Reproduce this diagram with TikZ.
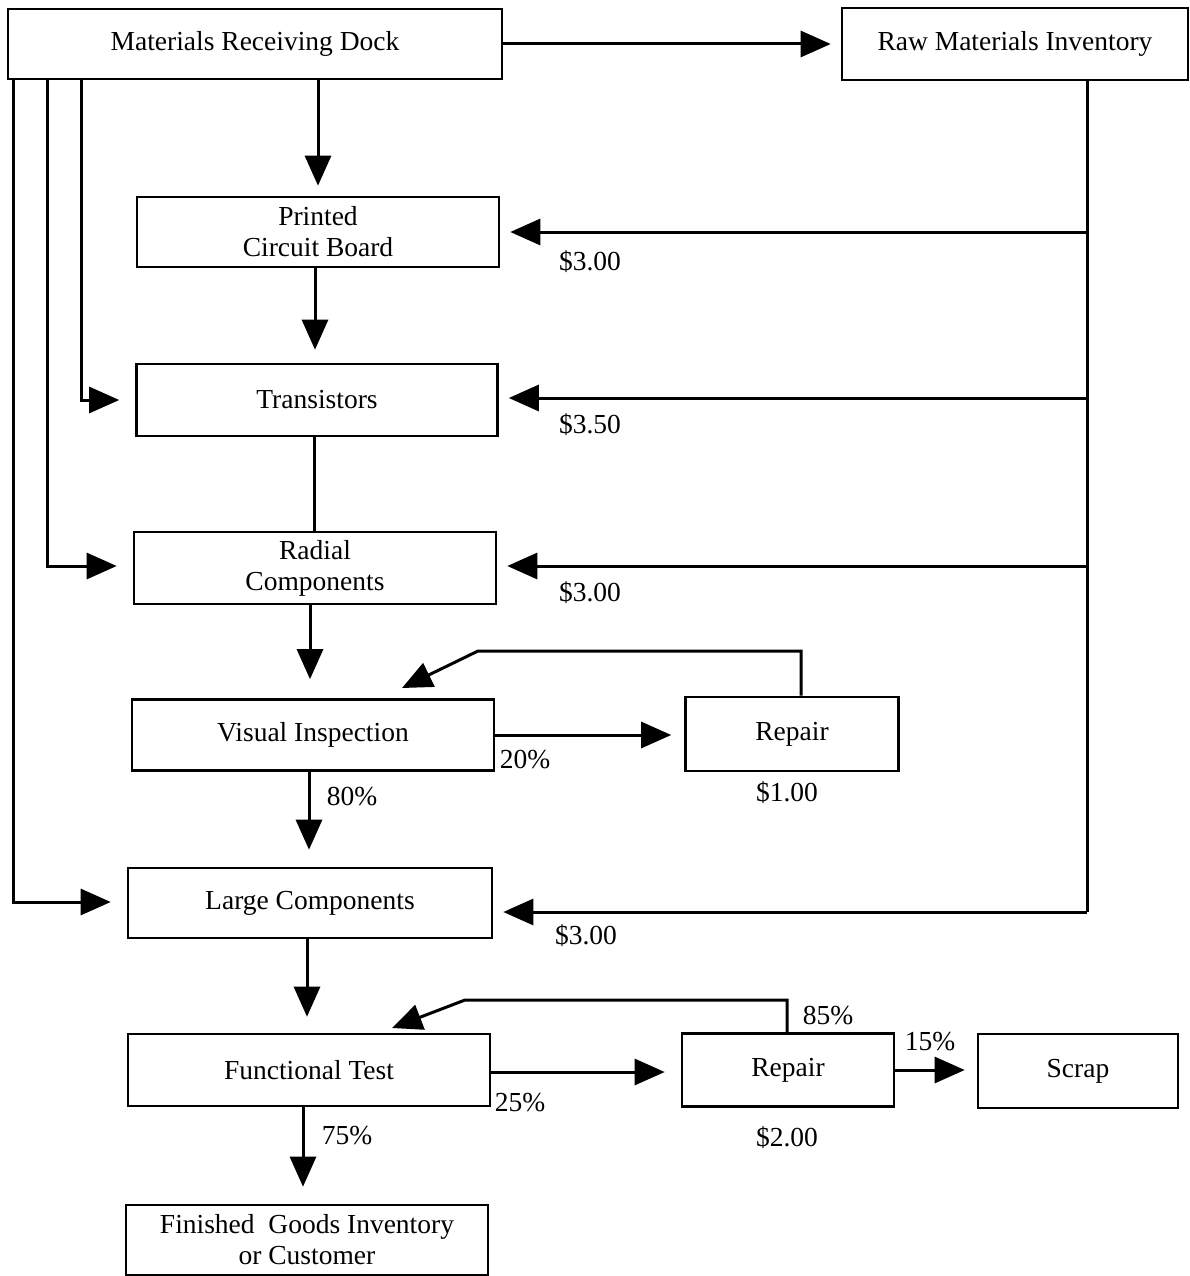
\documentclass[tikz,border=0pt]{standalone}
\usepackage{fontspec}
\setmainfont{Liberation Serif}
\usetikzlibrary{arrows.meta}
\begin{document}
\begin{tikzpicture}[x=1pt,y=-1pt,
  box/.style={draw,line width=2.6pt,inner sep=0pt,align=center,
    font=\fontsize{27.5}{31}\selectfont},
  lbl/.style={font=\fontsize{27.5}{31}\selectfont,inner sep=0pt},
  wire/.style={line width=3pt},
  arr/.style={wire,-{Triangle[length=30pt,width=26pt]},shorten >=13pt}]
\useasboundingbox (0,0) rectangle (1190,1276);

% process boxes
\node[box,minimum width=494pt,minimum height=70pt] (mrd)  at (255,44)   {Materials Receiving Dock};
\node[box,minimum width=346pt,minimum height=72pt] (rmi)  at (1015,44)  {Raw Materials Inventory};
\node[box,minimum width=362pt,minimum height=70pt] (pcb)  at (318,232)  {Printed\\Circuit Board};
\node[box,minimum width=361pt,minimum height=72pt] (tra)  at (317,400)  {Transistors};
\node[box,minimum width=362pt,minimum height=72pt] (rad)  at (315,568)  {Radial\\Components};
\node[box,minimum width=362pt,minimum height=71pt] (vis)  at (313,735)  {Visual Inspection};
\node[box,minimum width=213pt,minimum height=74pt] (rep1) at (792,734)  {Repair};
\node[box,minimum width=364pt,minimum height=70pt] (lc)   at (310,903)  {Large Components};
\node[box,minimum width=362pt,minimum height=72pt] (ft)   at (309,1070) {Functional Test};
\node[box,minimum width=212pt,minimum height=73pt] (rep2) at (788,1070) {Repair};
\node[box,minimum width=200pt,minimum height=74pt] (scrap) at (1078,1071) {Scrap};
\node[box,minimum width=362pt,minimum height=70pt] (fg)   at (307,1240) {Finished~ Goods Inventory\\or Customer};

% routing points
\coordinate (f1) at (81,80);
\coordinate (f2) at (47,80);
\coordinate (f3) at (13,80);
\coordinate (trunk) at (1087,80);
\coordinate (trunkend) at (1087,912);
\coordinate (r1a) at (801,651);
\coordinate (r1b) at (478,651);
\coordinate (r1tip) at (402,688);
\coordinate (r2a) at (787,1000);
\coordinate (r2b) at (465,1000);
\coordinate (r2tip) at (392,1028);

% main flow
\draw[arr,shorten >=10pt] (mrd.east) -- (rmi.west);
\draw[arr,shorten >=10pt] (pcb.north |- mrd.south) -- (pcb.north);
\draw[arr] (pcb.south -| 315,0) -- (tra.north -| 315,0);
\draw[wire] (tra.south -| 314,0) -- (rad.north -| 314,0);
\draw[arr,shorten >=19pt] (rad.south -| 310,0) -- (vis.north -| 310,0);
\draw[arr,shorten >=17pt] (vis.south -| 309,0) -- (lc.north -| 309,0);
\draw[arr,shorten >=16pt] (lc.south -| 307,0) -- (ft.north -| 307,0);
\draw[arr,shorten >=17pt] (ft.south -| 303,0) -- (fg.north -| 303,0);

% feeders from the receiving dock
\draw[arr,shorten >=16pt] (f1) |- (tra.west);
\draw[arr,shorten >=16pt] (f2) |- (rad.west |- 0,566);
\draw[arr,shorten >=16pt] (f3) |- (lc.west |- 0,902);

% supply trunk from raw materials inventory
\draw[wire] (trunk) -- (trunkend);
\draw[arr,shorten >=10pt] (trunk |- pcb.east) -- (pcb.east);
\draw[arr,shorten >=10pt] (trunk |- 0,398) -- (tra.east |- 0,398);
\draw[arr,shorten >=10pt] (trunk |- 0,566) -- (rad.east |- 0,566);
\draw[arr,shorten >=10pt] (trunkend) -- (trunkend -| lc.east);

% inspection and repair loops
\draw[arr] (vis.east) -- (rep1.west |- vis.east);
\draw[arr,shorten >=0pt] (r1a |- rep1.north) -- (r1a) -- (r1b) -- (r1tip);
\draw[arr,shorten >=16pt] (ft.east |- 0,1072) -- (rep2.west |- 0,1072);
\draw[arr,shorten >=0pt] (r2a |- rep2.north) -- (r2a) -- (r2b) -- (r2tip);
\draw[arr,shorten >=12pt] (rep2.east) -- (scrap.west |- rep2.east);

% costs and percentages
\node[lbl] (c1) at (590,262) {\$3.00};
\node[lbl] (c2) at (590,425) {\$3.50};
\node[lbl] (c3) at (590,593) {\$3.00};
\node[lbl] (c4) at (586,936) {\$3.00};
\node[lbl] (c5) at (787,793) {\$1.00};
\node[lbl] (c6) at (787,1138) {\$2.00};
\node[lbl] (p20) at (525,760) {20\%};
\node[lbl] (p80) at (352,797) {80\%};
\node[lbl] (p25) at (520,1103) {25\%};
\node[lbl] (p75) at (347,1136) {75\%};
\node[lbl] (p85) at (828,1016) {85\%};
\node[lbl] (p15) at (930,1042) {15\%};
\end{tikzpicture}
\end{document}
